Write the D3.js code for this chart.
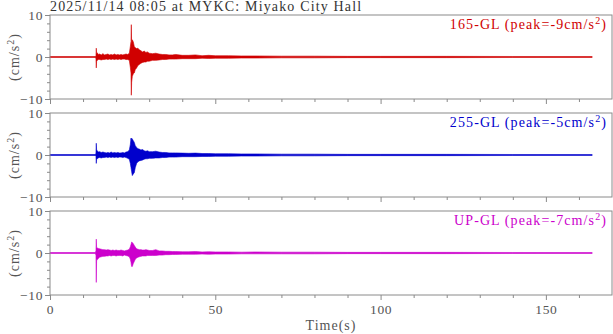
<!DOCTYPE html>
<html lang="en">
<head>
<meta charset="UTF-8">
<title>MYKC acceleration</title>
<style>
html, body { margin: 0; padding: 0; background: #fff; }
svg { display: block; }
text { font-family: 'Liberation Serif', 'DejaVu Serif', serif; }
.frame { fill: none; stroke: #8a8a8a; stroke-width: 1; }
.tick line { stroke: #8a8a8a; }
.tick-label { fill: #555; font-size: 13.5px; letter-spacing: 0.6px; }
</style>
</head>
<body>
<svg width="613" height="334"></svg>
<script src="https://cdnjs.cloudflare.com/ajax/libs/d3/7.8.5/d3.min.js"></script>
<script>
// time knots (s) shared by the three components
const times = [
  0, 13.7, 13.9, 14.0, 14.1, 14.3, 14.6, 15.0, 15.5, 16.0,
  16.5, 17.0, 17.5, 18.0, 18.5, 19.0, 19.5, 20.0, 20.5, 21.0,
  21.5, 22.0, 22.5, 23.0, 23.5, 24.0, 24.3, 24.5, 24.6, 24.7,
  24.9, 25.2, 25.5, 25.8, 26.2, 26.6, 27.0, 27.5, 28.0, 28.5,
  29.0, 29.5, 30.0, 31.0, 32.0, 33.0, 34.0, 35.0, 36.0, 37.0,
  38.0, 40.0, 42.0, 44.0, 46.0, 48.0, 50.0, 54.0, 58.0, 62.0,
  70.0, 80.0, 90.0, 100.0, 120.0, 140.0, 164.0
];

// envelope of the acceleration trace, cm/s^2
const ewUpper = [
  0.1, 0.1, 0.3, 2.1, 0.8, 1.0, 0.6, 0.7, 0.5, 0.8,
  0.5, 0.6, 0.7, 0.5, 0.6, 0.5, 0.7, 0.5, 0.6, 0.5,
  0.6, 0.5, 0.6, 0.7, 0.6, 0.9, 2.5, 3.7, 7.7, 3.0,
  4.1, 3.6, 2.5, 2.2, 2.0, 2.1, 1.7, 1.5, 1.2, 1.4,
  1.1, 1.2, 0.9, 0.8, 0.9, 0.7, 0.6, 0.6, 0.5, 0.5,
  0.6, 0.4, 0.4, 0.5, 0.3, 0.4, 0.3, 0.3, 0.25, 0.25,
  0.2, 0.2, 0.15, 0.15, 0.15, 0.12, 0.1
];
const ewLower = [
  -0.1, -0.1, -0.4, -2.6, -1.0, -0.8, -0.6, -0.6, -0.7, -0.6,
  -0.6, -0.5, -0.6, -0.5, -0.6, -0.5, -0.6, -0.5, -0.6, -0.5,
  -0.6, -0.5, -0.5, -0.6, -0.6, -0.8, -2.5, -3.8, -9.1, -6.0,
  -4.6, -4.0, -3.8, -3.0, -2.6, -2.0, -1.8, -1.5, -1.3, -1.2,
  -1.2, -1.0, -1.0, -0.8, -0.8, -0.7, -0.6, -0.6, -0.5, -0.5,
  -0.5, -0.4, -0.4, -0.4, -0.3, -0.35, -0.3, -0.3, -0.25, -0.25,
  -0.2, -0.2, -0.15, -0.15, -0.15, -0.12, -0.1
];
const nsUpper = [
  0.1, 0.1, 0.4, 2.8, 1.2, 1.0, 0.7, 0.8, 0.6, 0.7,
  0.6, 0.5, 0.6, 0.5, 0.7, 0.5, 0.6, 0.5, 0.6, 0.5,
  0.5, 0.6, 0.5, 0.7, 0.8, 1.2, 2.5, 4.0, 3.6, 4.0,
  3.8, 3.4, 3.0, 2.2, 1.8, 1.5, 1.4, 1.2, 1.3, 1.0,
  0.9, 1.0, 0.8, 0.8, 0.9, 0.7, 0.6, 0.6, 0.5, 0.5,
  0.5, 0.45, 0.4, 0.45, 0.35, 0.35, 0.3, 0.3, 0.25, 0.25,
  0.2, 0.2, 0.15, 0.15, 0.15, 0.12, 0.1
];
const nsLower = [
  -0.1, -0.1, -0.3, -2.0, -1.0, -0.9, -0.7, -0.6, -0.7, -0.6,
  -0.6, -0.5, -0.6, -0.5, -0.6, -0.5, -0.6, -0.5, -0.6, -0.5,
  -0.5, -0.6, -0.5, -0.6, -0.8, -1.0, -2.0, -3.0, -3.5, -4.0,
  -4.9, -4.5, -4.2, -3.0, -2.0, -1.6, -1.4, -1.3, -1.2, -1.0,
  -0.9, -0.9, -0.8, -0.8, -0.7, -0.7, -0.6, -0.6, -0.5, -0.5,
  -0.5, -0.4, -0.4, -0.4, -0.35, -0.35, -0.3, -0.3, -0.25, -0.25,
  -0.2, -0.2, -0.15, -0.15, -0.15, -0.12, -0.1
];
const udUpper = [
  0.1, 0.1, 0.5, 3.3, 1.2, 1.2, 1.1, 1.0, 0.9, 0.8,
  0.8, 0.7, 0.8, 0.7, 0.6, 0.7, 0.6, 0.7, 0.6, 0.6,
  0.7, 0.6, 0.5, 0.6, 0.7, 0.9, 1.5, 2.0, 2.3, 2.6,
  2.5, 2.2, 1.8, 1.4, 1.0, 0.9, 0.8, 0.8, 0.7, 0.7,
  0.8, 0.7, 0.6, 0.6, 0.8, 0.5, 0.5, 0.4, 0.4, 0.35,
  0.35, 0.3, 0.3, 0.35, 0.25, 0.3, 0.25, 0.25, 0.2, 0.25,
  0.2, 0.2, 0.15, 0.15, 0.15, 0.12, 0.1
];
const udLower = [
  -0.1, -0.1, -0.5, -7.0, -1.5, -1.6, -1.3, -1.0, -0.9, -0.8,
  -0.8, -0.7, -0.7, -0.6, -0.7, -0.6, -0.6, -0.7, -0.6, -0.6,
  -0.6, -0.7, -0.5, -0.6, -0.7, -0.9, -1.5, -2.2, -2.8, -3.2,
  -3.2, -2.5, -2.0, -1.5, -1.2, -1.0, -0.9, -0.8, -0.7, -0.7,
  -0.7, -0.6, -0.6, -0.6, -0.6, -0.5, -0.5, -0.4, -0.4, -0.35,
  -0.35, -0.3, -0.3, -0.3, -0.25, -0.3, -0.25, -0.25, -0.2, -0.2,
  -0.2, -0.2, -0.15, -0.15, -0.15, -0.12, -0.1
];

const names = ['165-GL', '255-GL', 'UP-GL'];
const peaks = [-9, -5, -7];
const colors = ['#d00000', '#0000cc', '#cc00cc'];
const uppers = [ewUpper, nsUpper, udUpper];
const lowers = [ewLower, nsLower, udLower];

const title = '2025/11/14 08:05 at MYKC: Miyako City Hall';
const yTicks = [-10, 0, 10];
const xTicks = [0, 50, 100, 150];

const svg = d3.select('svg');
const left = 50, right = 612;
const panelTop = [15, 113, 211];
const panelH = 84;

const x = d3.scaleLinear().domain([0, 170]).range([left, right]);

svg.append('text')
  .attr('x', 50).attr('y', 11)
  .attr('fill', '#333')
  .style('font-size', '14px')
  .style('letter-spacing', '1.15px')
  .text(title);

names.forEach(function (name, i) {
  const top = panelTop[i];
  const y = d3.scaleLinear().domain([-10, 10]).range([top + panelH, top]);
  const g = svg.append('g');

  // minor y ticks
  g.append('g')
    .attr('class', 'tick')
    .attr('transform', 'translate(' + left + ',0)')
    .call(d3.axisLeft(y).tickValues(d3.range(-8, 10, 2).filter(v => v !== 0)).tickSize(3).tickFormat(''))
    .call(s => s.select('.domain').remove())
    .selectAll('line').attr('stroke', '#8a8a8a');

  const ya = g.append('g')
    .attr('class', 'tick')
    .attr('transform', 'translate(' + left + ',0)')
    .call(d3.axisLeft(y).tickValues(yTicks).tickSize(5).tickPadding(2))
    .call(s => s.select('.domain').remove());
  ya.selectAll('line').attr('stroke', '#8a8a8a');
  ya.selectAll('text')
    .attr('class', 'tick-label')
    .attr('font-family', null)
    .attr('font-size', null)
    .attr('fill', null);

  // x ticks below each panel
  g.append('g')
    .attr('transform', 'translate(0,' + (top + panelH) + ')')
    .call(d3.axisBottom(x).tickValues(d3.range(10, 170, 10).filter(v => v % 50 !== 0)).tickSize(3).tickFormat(''))
    .call(s => s.select('.domain').remove())
    .selectAll('line').attr('stroke', '#8a8a8a');
  const xa = g.append('g')
    .attr('transform', 'translate(0,' + (top + panelH) + ')')
    .call(d3.axisBottom(x).tickValues(xTicks).tickSize(5).tickPadding(4).tickFormat(i === 2 ? d3.format('d') : ''))
    .call(s => s.select('.domain').remove());
  xa.selectAll('line').attr('stroke', '#8a8a8a');
  xa.selectAll('text')
    .attr('class', 'tick-label')
    .attr('font-family', null)
    .attr('font-size', null)
    .attr('fill', null);

  // trace
  const rows = times.map((t, k) => ({ t: t, hi: uppers[i][k], lo: lowers[i][k] }));
  const area = d3.area()
    .x(d => x(d.t))
    .y0(d => y(d.lo))
    .y1(d => y(d.hi));
  g.append('path')
    .datum(rows)
    .attr('d', area)
    .attr('fill', colors[i])
    .attr('stroke', colors[i])
    .attr('stroke-width', 0.6)
    .attr('stroke-linejoin', 'round');

  g.append('rect')
    .attr('class', 'frame')
    .attr('x', left).attr('y', top)
    .attr('width', right - left).attr('height', panelH);

  // component label
  const lab = g.append('text')
    .attr('x', 607).attr('y', top + 14)
    .attr('text-anchor', 'end')
    .attr('fill', colors[i])
    .style('font-size', '14px')
    .style('letter-spacing', '1.1px');
  lab.append('tspan').text(name + ' (peak=' + peaks[i] + 'cm/s');
  lab.append('tspan').attr('dy', -5).style('font-size', '10px').text('2');
  lab.append('tspan').attr('dy', 5).text(')');

  // unit label
  const yl = g.append('text')
    .attr('transform', 'translate(19,' + (top + panelH / 2) + ') rotate(-90)')
    .attr('text-anchor', 'middle')
    .attr('fill', '#555')
    .style('font-size', '14px')
    .style('letter-spacing', '1px');
  yl.append('tspan').text('(cm/s');
  yl.append('tspan').attr('dy', -5).style('font-size', '10px').text('2');
  yl.append('tspan').attr('dy', 5).text(')');
});

svg.append('text')
  .attr('x', (left + right) / 2).attr('y', 330)
  .attr('text-anchor', 'middle')
  .attr('fill', '#555')
  .style('font-size', '14px')
  .style('letter-spacing', '1px')
  .text('Time(s)');
</script>
</body>
</html>
